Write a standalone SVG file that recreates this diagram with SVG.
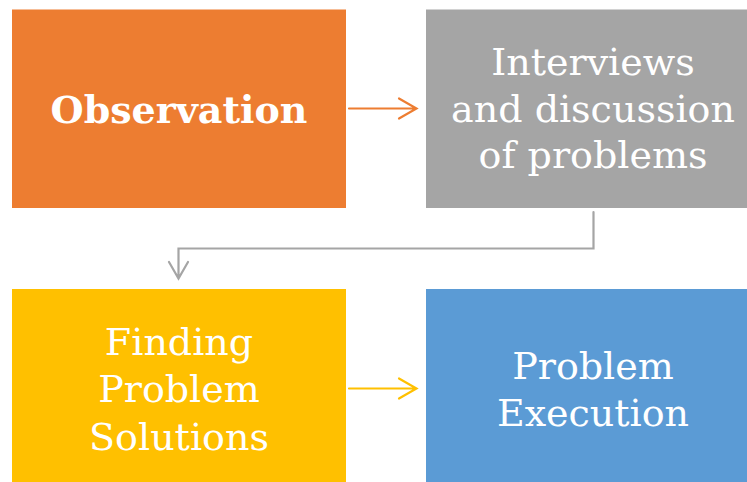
<svg xmlns="http://www.w3.org/2000/svg" width="747" height="482" viewBox="0 0 747 482">
  <style>
    .lbl { font-family: "DejaVu Serif", "Liberation Serif", serif; fill: #ffffff; text-anchor: middle; font-size: 38px; }
    .bold { font-weight: bold; font-size: 38px; }
    .conn { fill: none; stroke-width: 2.2; stroke-linecap: round; stroke-linejoin: miter; }
  </style>
  <rect width="747" height="482" fill="#ffffff"/>

  <g id="observation">
    <rect x="12" y="9.5" width="334" height="198.5" fill="#ED7D31"/>
    <text class="lbl bold" x="179" y="123">Observation</text>
  </g>

  <g id="interviews">
    <rect x="426" y="9.5" width="321" height="198.5" fill="#A5A5A5"/>
    <text class="lbl" x="593" y="75">Interviews</text>
    <text class="lbl" x="593" y="122">and discussion</text>
    <text class="lbl" x="593" y="168">of problems</text>
  </g>

  <g id="finding">
    <rect x="12" y="289" width="334" height="193" fill="#FFC000"/>
    <text class="lbl" x="179" y="355">Finding</text>
    <text class="lbl" x="179" y="402">Problem</text>
    <text class="lbl" x="179" y="450">Solutions</text>
  </g>

  <g id="execution">
    <rect x="426" y="289" width="321" height="193" fill="#5B9BD5"/>
    <text class="lbl" x="593" y="379">Problem</text>
    <text class="lbl" x="593" y="426">Execution</text>
  </g>

  <g id="connectors">
    <path class="conn" stroke="#ED7D31" d="M349 108.5 H416 M399 98.5 L416.5 108.5 L399 118.5"/>
    <path class="conn" stroke="#A5A5A5" d="M593.5 212 V248.5 H178.5 V278 M169 262 L178.5 278.5 L188 262"/>
    <path class="conn" stroke="#FFC000" d="M349 388.5 H416 M399 378.5 L416.5 388.5 L399 398.5"/>
  </g>
</svg>
